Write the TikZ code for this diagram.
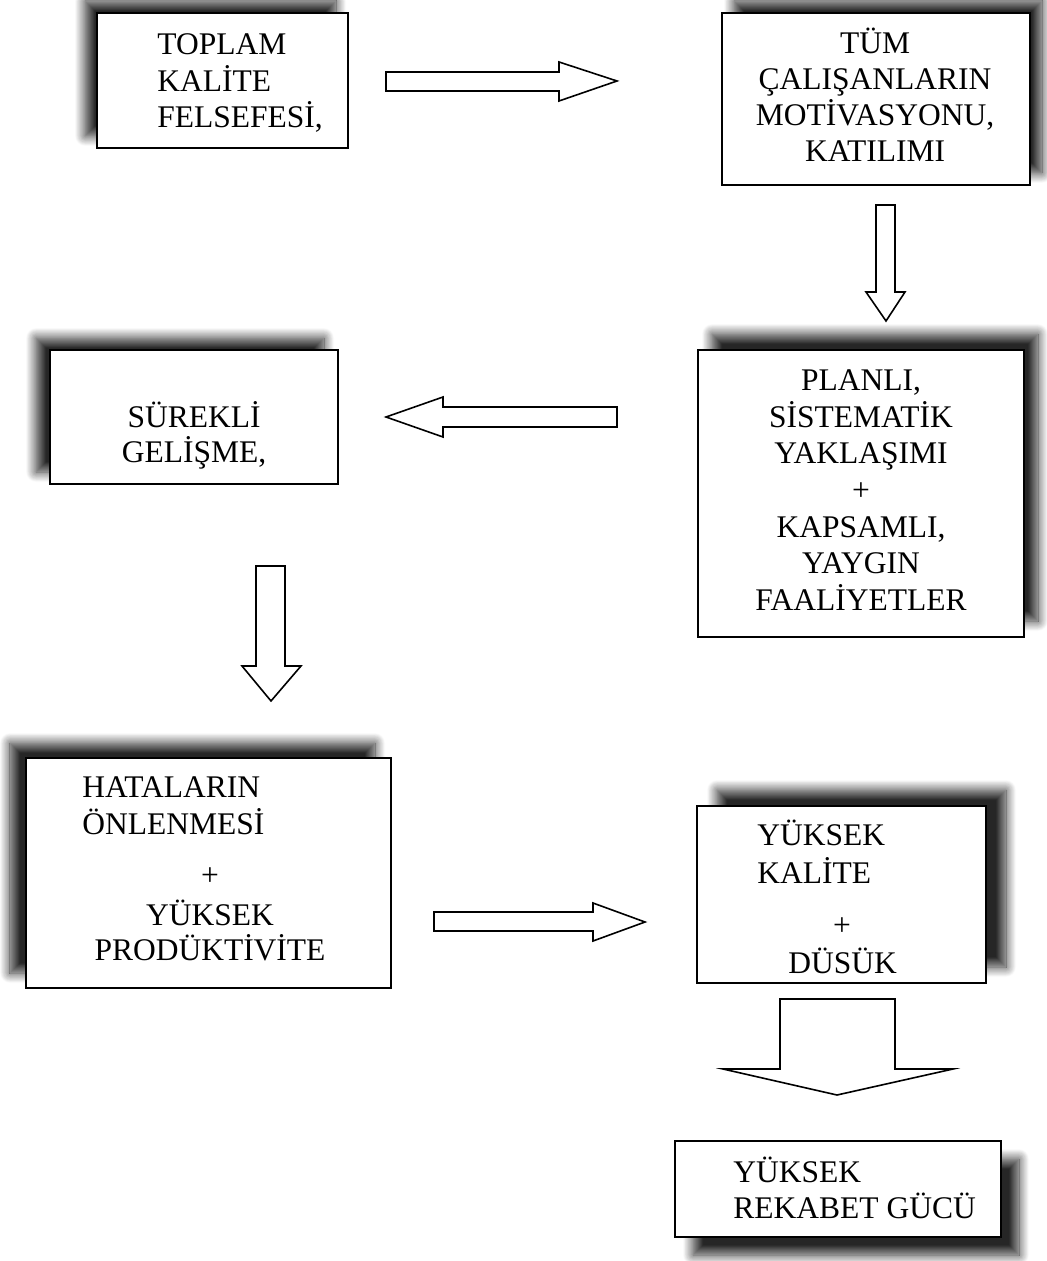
\documentclass[tikz,border=0pt]{standalone}
\usepackage{fontspec}
\setmainfont{Liberation Serif}
\usetikzlibrary{fit}
\usetikzlibrary{shadows.blur}

\tikzset{
  kutu/.style 2 args={draw, fill=white, line width=1pt, inner sep=0pt,
    blur shadow={shadow xshift=#1, shadow yshift=#2, shadow blur radius=5pt,
      shadow blur steps=14, shadow opacity=85}},
  yazi/.style={font=\fontsize{15.75}{18}\selectfont, inner sep=0pt},
  sol/.style={yazi, anchor=base west},
  orta/.style={yazi, anchor=base},
  ok/.style={draw, fill=white, line width=.8pt, line join=miter}
}

\begin{document}
\begin{tikzpicture}[x=.5pt,y=-.5pt]
\useasboundingbox (0,0) rectangle (1046,1261);
% kutular
\node[kutu={-6pt}{6pt}, fit={(97,13) (348,148)}] (toplam) {};
\node[kutu={6pt}{6pt}, fit={(722,13) (1030,185)}] (tum) {};
\node[kutu={7pt}{8pt}, fit={(698,350) (1024,637)}] (planli) {};
\node[kutu={-7pt}{6pt}, fit={(50,350) (338,484)}] (surekli) {};
\node[kutu={-8pt}{7.5pt}, fit={(26,758) (391,988)}] (hata) {};
\node[kutu={10pt}{8pt}, fit={(697,806) (986,983)}] (kalite) {};
\node[kutu={9pt}{-9pt}, fit={(675,1141) (1001,1237)}] (rekabet) {};

% yazilar
\foreach \s/\y [count=\i] in {TOPLAM/55, KALİTE/91.5, {FELSEFESİ,}/128}
  \node[sol] (toplam-\i) at (157,\y) {\s};
\foreach \s/\y [count=\i] in {TÜM/54, ÇALIŞANLARIN/90, {MOTİVASYONU,}/126, KATILIMI/162}
  \node[orta] (tum-\i) at (875,\y) {\s};
\foreach \s/\y [count=\i] in {{PLANLI,}/391, SİSTEMATİK/427, YAKLAŞIMI/463, +/500,
    {KAPSAMLI,}/537, YAYGIN/573, FAALİYETLER/610}
  \node[orta] (planli-\i) at (861,\y) {\s};
\foreach \s/\y [count=\i] in {SÜREKLİ/427, {GELİŞME,}/462}
  \node[orta] (surekli-\i) at (194,\y) {\s};
\foreach \s/\y [count=\i] in {HATALARIN/797, ÖNLENMESİ/834}
  \node[sol] (hata-\i) at (82,\y) {\s};
\foreach \s/\y [count=\i] in {+/885, YÜKSEK/925, PRODÜKTİVİTE/960}
  \node[orta] (hata-b\i) at (210,\y) {\s};
\node[sol] (kalite-1) at (757,845) {YÜKSEK};
\node[sol] (kalite-2) at (757,883) {KALİTE};
\node[orta] (kalite-3) at (842,935) {+};
\node[sol] (kalite-4) at (788,973) {DÜSÜK};
\node[sol] (rekabet-1) at (733,1182) {YÜKSEK};
\node[sol] (rekabet-2) at (733,1218) {REKABET GÜCÜ};

% blok oklar
\draw[ok] (386,72) -- (559,72) -- (559,62) -- (617,81) -- (559,101) -- (559,91) -- (386,91) -- cycle;
\draw[ok] (876,205) -- (895,205) -- (895,292) -- (905,292) -- (886,321) -- (866,292) -- (876,292) -- cycle;
\draw[ok] (617,407) -- (443,407) -- (443,397) -- (386,417) -- (443,437) -- (443,427) -- (617,427) -- cycle;
\draw[ok] (256,566) -- (285,566) -- (285,666) -- (301,666) -- (271,701) -- (242,666) -- (256,666) -- cycle;
\draw[ok] (434,912) -- (593,912) -- (593,903) -- (645,922) -- (593,941) -- (593,931) -- (434,931) -- cycle;
\draw[ok] (780,999) -- (895,999) -- (895,1069) -- (953,1069) -- (837,1095) -- (723,1069) -- (780,1069) -- cycle;
\end{tikzpicture}
\end{document}
